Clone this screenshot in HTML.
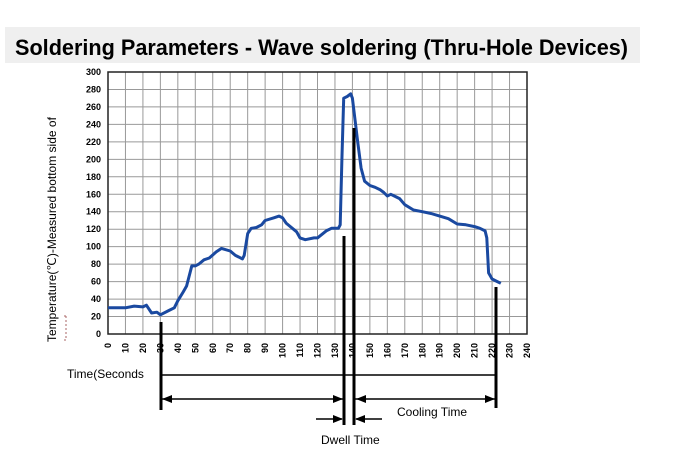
<!DOCTYPE html>
<html><head><meta charset="utf-8"><style>
body{margin:0;background:#fff;width:675px;height:450px;overflow:hidden;font-family:"Liberation Sans",sans-serif}
</style></head><body>
<svg id="s" width="675" height="450" xmlns="http://www.w3.org/2000/svg" font-family="Liberation Sans, sans-serif">
<rect x="5" y="27" width="635" height="36" fill="#efefef"/>
<text x="15" y="55" font-size="22" font-weight="bold" textLength="613" lengthAdjust="spacingAndGlyphs">Soldering Parameters - Wave soldering (Thru-Hole Devices)</text>
<g id="grid" stroke="#999" stroke-width="1"></g>
<rect x="108" y="72" width="419" height="262" fill="none" stroke="#222" stroke-width="1.5"/>
<g id="lab" font-size="9" font-weight="bold"></g>
<text transform="translate(56,342) rotate(-90)" font-size="12">Temperature(℃)-Measured bottom side of</text>
<path d="M66 316v24h-3M66 316h-3" stroke="#a66" stroke-width="1" stroke-dasharray="2,2" fill="none"/>
<path id="curve" fill="none" stroke="#1a49a0" stroke-width="3" stroke-linejoin="round"/>
<g stroke="#000" stroke-width="3">
<line x1="161" y1="322" x2="161" y2="410"/>
<line x1="344" y1="236" x2="344" y2="425"/>
<line x1="354" y1="128" x2="354" y2="425"/>
<line x1="496" y1="287" x2="496" y2="408"/>
</g>
<g stroke="#000" stroke-width="1.5">
<line x1="161" y1="375" x2="496" y2="375"/>
<line x1="161" y1="399" x2="343" y2="399"/>
<line x1="355" y1="399" x2="495" y2="399"/>
<line x1="316" y1="419" x2="342" y2="419"/>
<line x1="356" y1="419" x2="382" y2="419"/>
</g>
<g fill="#000">
<path d="M162 399l10-4v8z"/><path d="M343 399l-10-4v8z"/>
<path d="M356 399l10-4v8z"/><path d="M495 399l-10-4v8z"/>
<path d="M343 419l-10-4v8z"/><path d="M355 419l10-4v8z"/>
</g>
<text x="67" y="378" font-size="12">Time(Seconds</text>
<text x="397" y="416" font-size="12">Cooling Time</text>
<text x="321" y="444" font-size="12">Dwell Time</text>
</svg>
<script>
var X=t=>108+t*419/240, Y=v=>334-v*262/300, NS="http://www.w3.org/2000/svg";
var g=document.getElementById('grid'),l=document.getElementById('lab');
function el(p,tag,a,txt){var e=document.createElementNS(NS,tag);for(var k in a)e.setAttribute(k,a[k]);if(txt!=null)e.textContent=txt;p.appendChild(e);}
for(var t=10;t<240;t+=10)el(g,'line',{x1:X(t),x2:X(t),y1:72,y2:334});
for(var v=20;v<300;v+=20)el(g,'line',{x1:108,x2:527,y1:Y(v),y2:Y(v)});
for(var v=0;v<=300;v+=20)el(l,'text',{x:101,y:Y(v)+3,'text-anchor':'end'},v);
for(var t=0;t<=240;t+=10)el(l,'text',{transform:'translate('+(X(t)+3)+',343) rotate(-90)','text-anchor':'end'},t);
var p=[[0,30],[10,30],[15,32],[20,31],[22,33],[25,24],[28,25],[30,22],[35,27],[38,30],[40,38],[43,48],[45,55],[48,78],[50,78],[52,80],[55,85],[58,87],[62,94],[65,98],[70,95],[73,90],[75,88],[77,86],[78,90],[80,115],[82,121],[85,122],[88,125],[90,130],[95,133],[98,135],[100,133],[102,127],[108,117],[110,110],[113,108],[118,110],[120,110],[125,118],[128,121],[132,121],[133,125],[134,200],[135,270],[137,272],[139,275],[140,270],[143,220],[145,190],[147,175],[150,170],[153,168],[156,165],[158,162],[160,158],[162,160],[165,157],[167,155],[170,148],[175,142],[180,140],[185,138],[190,135],[195,132],[200,126],[205,125],[210,123],[213,121],[216,118],[217,110],[218,70],[220,63],[223,60],[225,58]];
document.getElementById('curve').setAttribute('d','M'+p.map(q=>X(q[0]).toFixed(1)+' '+Y(q[1]).toFixed(1)).join('L'));
</script>
</body></html>
